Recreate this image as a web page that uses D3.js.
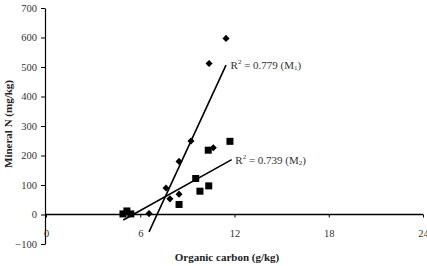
<!DOCTYPE html>
<html>
<head>
<meta charset="utf-8">
<script src="https://cdn.jsdelivr.net/npm/d3@7"></script>
<style>
  html, body { margin: 0; padding: 0; background: #fff; }
  text { font-family: "Liberation Serif", "Times New Roman", serif; }
</style>
</head>
<body>
<script>
const WIDTH = 427;
const HEIGHT = 266;

// values
const xTicks = [0, 6, 12, 18, 24];
const yTicks = [-100, 0, 100, 200, 300, 400, 500, 600, 700];

// M1 (diamonds)
const m1X = [11.46, 10.38, 9.23, 8.47, 7.64, 7.89, 8.47, 6.56, 10.65, 5.0];
const m1Y = [597, 512, 249, 180, 90, 53, 69, 3, 226, 5];

// M2 (squares)
const m2X = [11.71, 10.33, 9.53, 9.80, 10.36, 8.47, 4.9, 5.15, 5.4];
const m2Y = [248, 218, 122, 79, 97, 34, 2, 12, 2];

// trend lines: [slope, intercept], drawn over [xStart, xEnd]
const m1Fit = [115.3, -815];
const m1Range = [6.56, 11.46];
const m2Fit = [29.7, -165];
const m2Range = [4.92, 11.82];

const svg = d3.select("body")
    .append("svg")
    .attr("width", WIDTH)
    .attr("height", HEIGHT);

const x = d3.scaleLinear().domain([0, 24]).range([46, 423]);
const y = d3.scaleLinear().domain([-100, 700]).range([244, 8]);

// y axis
const yAxis = svg.append("g")
    .attr("transform", `translate(${x(0) - 1},0)`)
    .call(d3.axisLeft(y).tickValues(yTicks).tickSize(4).tickSizeOuter(0).tickPadding(4));
yAxis.select(".domain").attr("stroke", "#000").attr("stroke-width", 1.2);
yAxis.selectAll(".tick line").attr("stroke", "#000");
yAxis.selectAll(".tick text")
    .attr("fill", "#333")
    .style("font-size", "10.5px");

// x axis sits on y = 0, labels drop below
const xAxis = svg.append("g")
    .attr("transform", `translate(0,${y(0)})`)
    .call(d3.axisBottom(x).tickValues(xTicks).tickSize(3).tickSizeOuter(0).tickPadding(12));
xAxis.select(".domain").attr("stroke", "#000").attr("stroke-width", 1.5)
    .attr("d", `M${x(0) - 1},0H${x(24)}`);
xAxis.selectAll(".tick line").attr("stroke", "#000");
xAxis.selectAll(".tick text")
    .attr("fill", "#333")
    .style("font-size", "10.5px");

// trend lines
const fits = [
    { fit: m1Fit, range: m1Range },
    { fit: m2Fit, range: m2Range }
];
svg.selectAll(".fit")
    .data(fits)
    .enter()
    .append("line")
    .attr("class", "fit")
    .attr("x1", d => x(d.range[0]))
    .attr("y1", d => y(d.fit[0] * d.range[0] + d.fit[1]))
    .attr("x2", d => x(d.range[1]))
    .attr("y2", d => y(d.fit[0] * d.range[1] + d.fit[1]))
    .attr("stroke", "#000")
    .attr("stroke-width", 1.6);

// points
const diamond = d3.symbol().type(d3.symbolDiamond2).size(32);
svg.selectAll(".m1")
    .data(m1X.map((v, i) => [v, m1Y[i]]))
    .enter()
    .append("path")
    .attr("class", "m1")
    .attr("d", diamond)
    .attr("transform", d => `translate(${x(d[0])},${y(d[1])})`)
    .attr("fill", "#000");

svg.selectAll(".m2")
    .data(m2X.map((v, i) => [v, m2Y[i]]))
    .enter()
    .append("rect")
    .attr("class", "m2")
    .attr("x", d => x(d[0]) - 3.5)
    .attr("y", d => y(d[1]) - 3.5)
    .attr("width", 7)
    .attr("height", 7)
    .attr("fill", "#000");

// R2 labels
const labels = [
    { r2: "0.779", sub: "1", at: [11.75, 506] },
    { r2: "0.739", sub: "2", at: [12.05, 186] }
];
labels.forEach(l => {
    const t = svg.append("text")
        .attr("x", x(l.at[0]))
        .attr("y", y(l.at[1]) + 4)
        .attr("fill", "#333")
        .style("font-size", "11px");
    t.append("tspan").text("R");
    t.append("tspan").attr("dy", -5).style("font-size", "7px").text("2");
    t.append("tspan").attr("dy", 5).text(` = ${l.r2} (M`);
    t.append("tspan").attr("dy", 1).style("font-size", "7px").text(l.sub);
    t.append("tspan").attr("dy", -1).text(")");
});

// axis titles
svg.append("text")
    .attr("x", 227)
    .attr("y", 261)
    .attr("text-anchor", "middle")
    .attr("font-weight", "bold")
    .attr("fill", "#222")
    .style("font-size", "11px")
    .text("Organic carbon (g/kg)");

svg.append("text")
    .attr("transform", "translate(12,124) rotate(-90)")
    .attr("text-anchor", "middle")
    .attr("font-weight", "bold")
    .attr("fill", "#222")
    .style("font-size", "11px")
    .text("Mineral N (mg/kg)");
</script>
</body>
</html>
